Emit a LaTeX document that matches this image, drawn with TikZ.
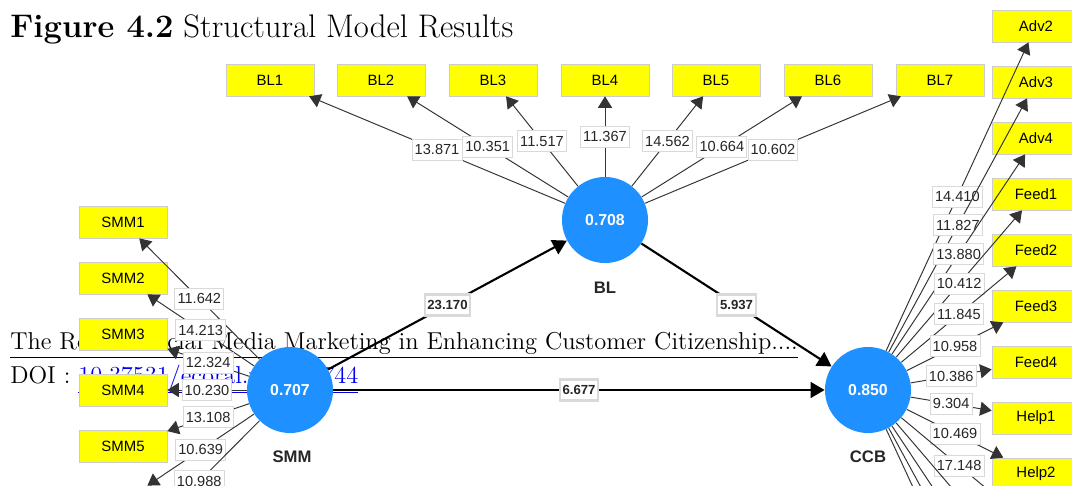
\documentclass[tikz,border=0pt]{standalone}
\usepackage{fontspec}
\setsansfont{Liberation Sans}
\usetikzlibrary{positioning,arrows.meta}
\definecolor{plsblue}{HTML}{1E90FF}
\definecolor{plsyellow}{HTML}{FFFF00}
\definecolor{linkblue}{HTML}{0000EE}

\begin{document}
\begin{tikzpicture}[x=0.2mm, y=-0.2mm, >={Triangle[length=6.5pt,width=8pt]},
    ind/.style={draw=black!20, fill=plsyellow, minimum width=17.6mm, minimum height=6.4mm,
                inner sep=0pt, font=\sffamily\fontsize{8.5}{10}\selectfont},
    lv/.style={circle, fill=plsblue, minimum size=17.2mm, inner sep=0pt,
               text=white, font=\sffamily\bfseries\fontsize{9}{11}\selectfont},
    lvname/.style={font=\sffamily\bfseries\fontsize{9.5}{11}\selectfont, text=black!85},
    lbl/.style={draw=black!15, fill=white, inner xsep=1.5pt, inner ysep=0pt, minimum height=4.2mm,
                font=\sffamily\fontsize{8.3}{9}\selectfont, text=black!85},
    pth/.style={lbl, font=\sffamily\bfseries\fontsize{7.5}{9}\selectfont},
    load/.style={->, draw=black!80, line width=0.55pt},
    struct/.style={-{Triangle[length=8pt,width=9pt]}, line width=1.2pt}]

    \useasboundingbox (0,0) rectangle (1072,486);
    \clip (0,0) rectangle (1072,486);
    \fill[white] (0,0) rectangle (1072,486);

    % page text behind the figure
    \node[anchor=base west, inner sep=0pt, font=\fontsize{18.6}{22}\selectfont] (title) at (10,38)
        {\textbf{Figure 4.2} Structural Model Results};
    \node[anchor=base west, inner sep=0pt, font=\fontsize{13.9}{16}\selectfont] (runhead) at (10,350)
        {\underline{The Role of Social Media Marketing in Enhancing Customer Citizenship....}};
    \node[anchor=base west, inner sep=0pt, font=\fontsize{13.9}{16}\selectfont] (doi) at (10,384)
        {DOI : \textcolor{linkblue}{\underline{10.37531/ecoral.v10i12.744}}};

    % latent variables
    \node[lv] (bl)  at (605,220) {0.708};
    \node[lv] (smm) at (290,390) {0.707};
    \node[lv] (ccb) at (868,390) {0.850};
    \node[lvname] (blname)  at (605,288) {BL};
    \node[lvname] (smmname) at (292,457) {SMM};
    \node[lvname] (ccbname) at (868,457) {CCB};

    % indicators
    \foreach \i/\x in {1/270,2/381,3/493,4/605,5/716,6/828,7/940}
        \node[ind] (bl\i) at (\x,80) {BL\i};
    \foreach \i in {1,...,5}
        \node[ind] (smm\i) at (123,{222+56*(\i-1)}) {SMM\i};
    \node[ind] (smm6) at (123,502) {};
    \coordinate (smm7) at (139,542);
    \foreach \n/\y in {Adv2/26, Adv3/82, Adv4/138, Feed1/194, Feed2/250, Feed3/306,
                       Feed4/362, Help1/418, Help2/474}
        \node[ind] (\n) at (1036,\y) {\n};
    \coordinate (Help3) at (1017,514);
    \coordinate (Help4) at (1022,570);
    \coordinate (Tol1) at (1025,626);
    \coordinate (Tol2) at (1027,682);
    \coordinate (Tol3) at (1029,738);

    % outer loadings
    \foreach \i/\v in {1/13.871,2/10.351,3/11.517,4/11.367,5/14.562,6/10.664,7/10.602}
        \draw[load] (bl) -- node[lbl] (w-bl\i) {\v} (bl\i);
    \foreach \i/\v in {1/11.642,2/14.213,3/12.324,4/10.230,5/13.108,6/10.639,7/10.988}
        \draw[load] (smm) -- node[lbl] (w-smm\i) {\v} (smm\i);
    \foreach \n/\v in {Adv2/14.410, Adv3/11.827, Adv4/13.880, Feed1/10.412, Feed2/11.845,
                       Feed3/10.958, Feed4/10.386, Help1/9.304, Help2/10.469, Help3/17.148}
        \draw[load] (ccb) -- node[lbl] (w-\n) {\v} (\n);
    \foreach \n in {Help4, Tol1, Tol2, Tol3}
        \draw[load] (ccb) -- (\n);

    % inner model
    \draw[struct] (smm) -- node[pth] (p-smm-bl) {23.170} (bl);
    \draw[struct] (bl) -- node[pth] (p-bl-ccb) {5.937} (ccb);
    \draw[struct] (smm) -- node[pth] (p-smm-ccb) {6.677} (ccb);
\end{tikzpicture}
\end{document}
